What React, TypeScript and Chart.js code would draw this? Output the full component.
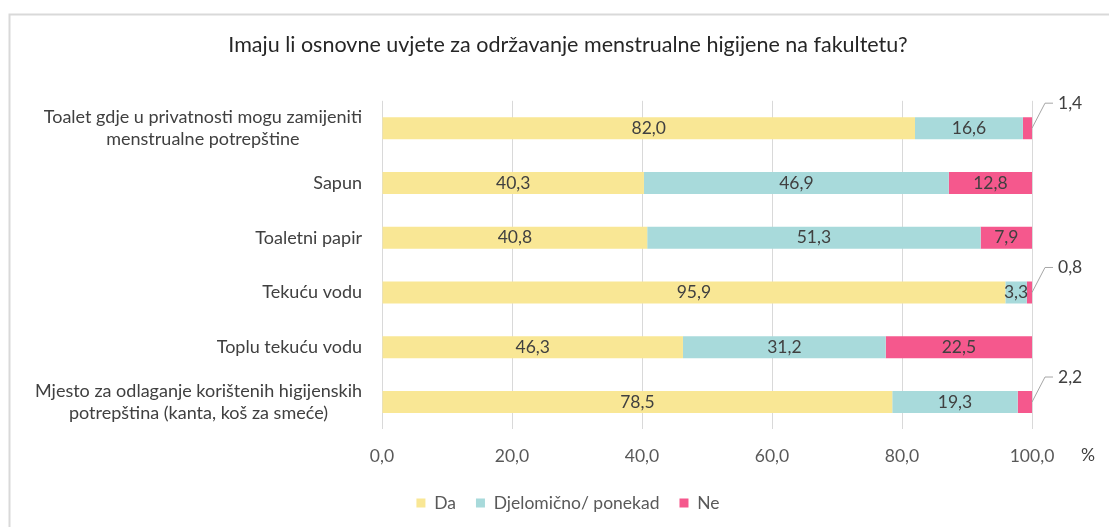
import React, { useEffect, useRef } from "react";
import { Chart, registerables } from "chart.js";

Chart.register(...registerables);

const titleText = "Imaju li osnovne uvjete za održavanje menstrualne higijene na fakultetu?";
const categories: string[][] = [
  ["Toalet gdje u privatnosti mogu zamijeniti", "menstrualne potrepštine"],
  ["Sapun"],
  ["Toaletni papir"],
  ["Tekuću vodu"],
  ["Toplu tekuću vodu"],
  ["Mjesto za odlaganje korištenih higijenskih", "potrepština (kanta, koš za smeće)"],
];
const seriesNames = ["Da", "Djelomično/ ponekad", "Ne"];
const daValues = [82.0, 40.3, 40.8, 95.9, 46.3, 78.5];
const djelomicnoValues = [16.6, 46.9, 51.3, 3.3, 31.2, 19.3];
const neValues = [1.4, 12.8, 7.9, 0.8, 22.5, 2.2];
const seriesColors = ["#F9E795", "#A8DADB", "#F5588D"];
const xTickValues = [0, 20, 40, 60, 80, 100];
const unitLabel = "%";

const FONT = "Lato, 'Open Sans', sans-serif";
const TEXT = "#404040";

const fmt = (v: number) => v.toFixed(1).replace(".", ",");

const framePlugin = {
  id: "frame",
  beforeDraw(chart: any) {
    const ctx = chart.ctx;
    ctx.save();
    ctx.fillStyle = "#ffffff";
    ctx.fillRect(0, 0, chart.width, chart.height);
    ctx.strokeStyle = "#d9d9d9";
    ctx.lineWidth = 2;
    ctx.beginPath();
    ctx.moveTo(9.5, chart.height);
    ctx.lineTo(9.5, 14.5);
    ctx.lineTo(chart.width, 14.5);
    ctx.stroke();
    ctx.restore();
  },
};

const categoryLabelPlugin = {
  id: "categoryLabels",
  afterDraw(chart: any) {
    const ctx = chart.ctx;
    const yScale = chart.scales.y;
    const right = chart.chartArea.left - 20;
    ctx.save();
    ctx.font = `18px ${FONT}`;
    ctx.fillStyle = TEXT;
    ctx.textAlign = "center";
    ctx.textBaseline = "middle";
    categories.forEach((lines, i) => {
      const y = yScale.getPixelForValue(i);
      const w = Math.max(...lines.map((l) => ctx.measureText(l).width));
      const cx = right - w / 2;
      lines.forEach((line, j) => {
        ctx.fillText(line, cx, y + (j - (lines.length - 1) / 2) * 22);
      });
    });
    ctx.restore();
  },
};

const valueLabelPlugin = {
  id: "valueLabels",
  afterDatasetsDraw(chart: any) {
    const ctx = chart.ctx;
    ctx.save();
    ctx.font = `17.5px ${FONT}`;
    ctx.fillStyle = TEXT;
    chart.data.datasets.forEach((ds: any, di: number) => {
      const meta = chart.getDatasetMeta(di);
      meta.data.forEach((bar: any, i: number) => {
        const v = ds.data[i];
        if (v >= 3) {
          ctx.textAlign = "center";
          ctx.textBaseline = "middle";
          ctx.fillText(fmt(v), (bar.x + bar.base) / 2, bar.y);
        } else {
          const x0 = bar.x;
          const y0 = bar.y;
          ctx.strokeStyle = "#a6a6a6";
          ctx.lineWidth = 1;
          ctx.beginPath();
          ctx.moveTo(x0, y0);
          ctx.lineTo(x0 + 13, y0 - 25);
          ctx.lineTo(x0 + 21, y0 - 25);
          ctx.stroke();
          ctx.textAlign = "left";
          ctx.textBaseline = "middle";
          ctx.fillText(fmt(v), x0 + 26, y0 - 25);
        }
      });
    });
    ctx.restore();
  },
};

const unitPlugin = {
  id: "unit",
  afterDraw(chart: any) {
    const ctx = chart.ctx;
    ctx.save();
    ctx.font = `17.5px ${FONT}`;
    ctx.fillStyle = TEXT;
    ctx.textAlign = "center";
    ctx.textBaseline = "middle";
    ctx.fillText(unitLabel, chart.chartArea.right + 56, chart.chartArea.bottom + 26);
    ctx.restore();
  },
};

export default function App() {
  const canvasRef = useRef<HTMLCanvasElement | null>(null);

  useEffect(() => {
    if (!canvasRef.current) return;
    const seriesValues = [daValues, djelomicnoValues, neValues];
    const chart = new Chart(canvasRef.current, {
      type: "bar",
      data: {
        labels: categories.map((c) => c.join(" ")),
        datasets: seriesNames.map((name, i) => ({
          label: name,
          data: seriesValues[i],
          backgroundColor: seriesColors[i],
          borderWidth: 0,
          barPercentage: 0.4,
          categoryPercentage: 1,
        })),
      },
      options: {
        indexAxis: "y",
        responsive: false,
        animation: false,
        layout: { padding: { left: 104, right: 77, top: 0, bottom: 5.25 } },
        scales: {
          x: {
            stacked: true,
            min: 0,
            max: 100,
            afterBuildTicks: (scale: any) => {
              scale.ticks = xTickValues.map((v) => ({ value: v }));
            },
            afterFit: (scale: any) => {
              scale.height = 44.85;
            },
            ticks: {
              padding: 16,
              color: "#595959",
              font: { family: FONT, size: 17.5 },
              callback: (v: any) => fmt(Number(v)),
            },
            grid: { color: "#d9d9d9", lineWidth: 1, drawTicks: false },
            border: { display: false },
          },
          y: {
            stacked: true,
            afterFit: (scale: any) => {
              scale.width = 278;
            },
            ticks: { display: false },
            grid: { display: false, drawTicks: false },
            border: { display: false },
          },
        },
        plugins: {
          title: {
            display: true,
            text: titleText,
            color: "#262626",
            font: { family: FONT, size: 21.5, weight: "normal", lineHeight: 1.2 },
            padding: { top: 32, bottom: 43 },
          },
          legend: {
            position: "bottom",
            labels: {
              boxWidth: 9,
              boxHeight: 9,
              padding: 20,
              color: "#595959",
              font: { family: FONT, size: 17.5 },
            },
          },
          tooltip: { enabled: false },
        },
      },
      plugins: [framePlugin, categoryLabelPlugin, valueLabelPlugin, unitPlugin],
    });
    return () => chart.destroy();
  }, []);

  return (
    <div style={{ position: "absolute", left: 0, top: 0, width: 1109, height: 527 }}>
      <canvas ref={canvasRef} width={1109} height={527} />
    </div>
  );
}
